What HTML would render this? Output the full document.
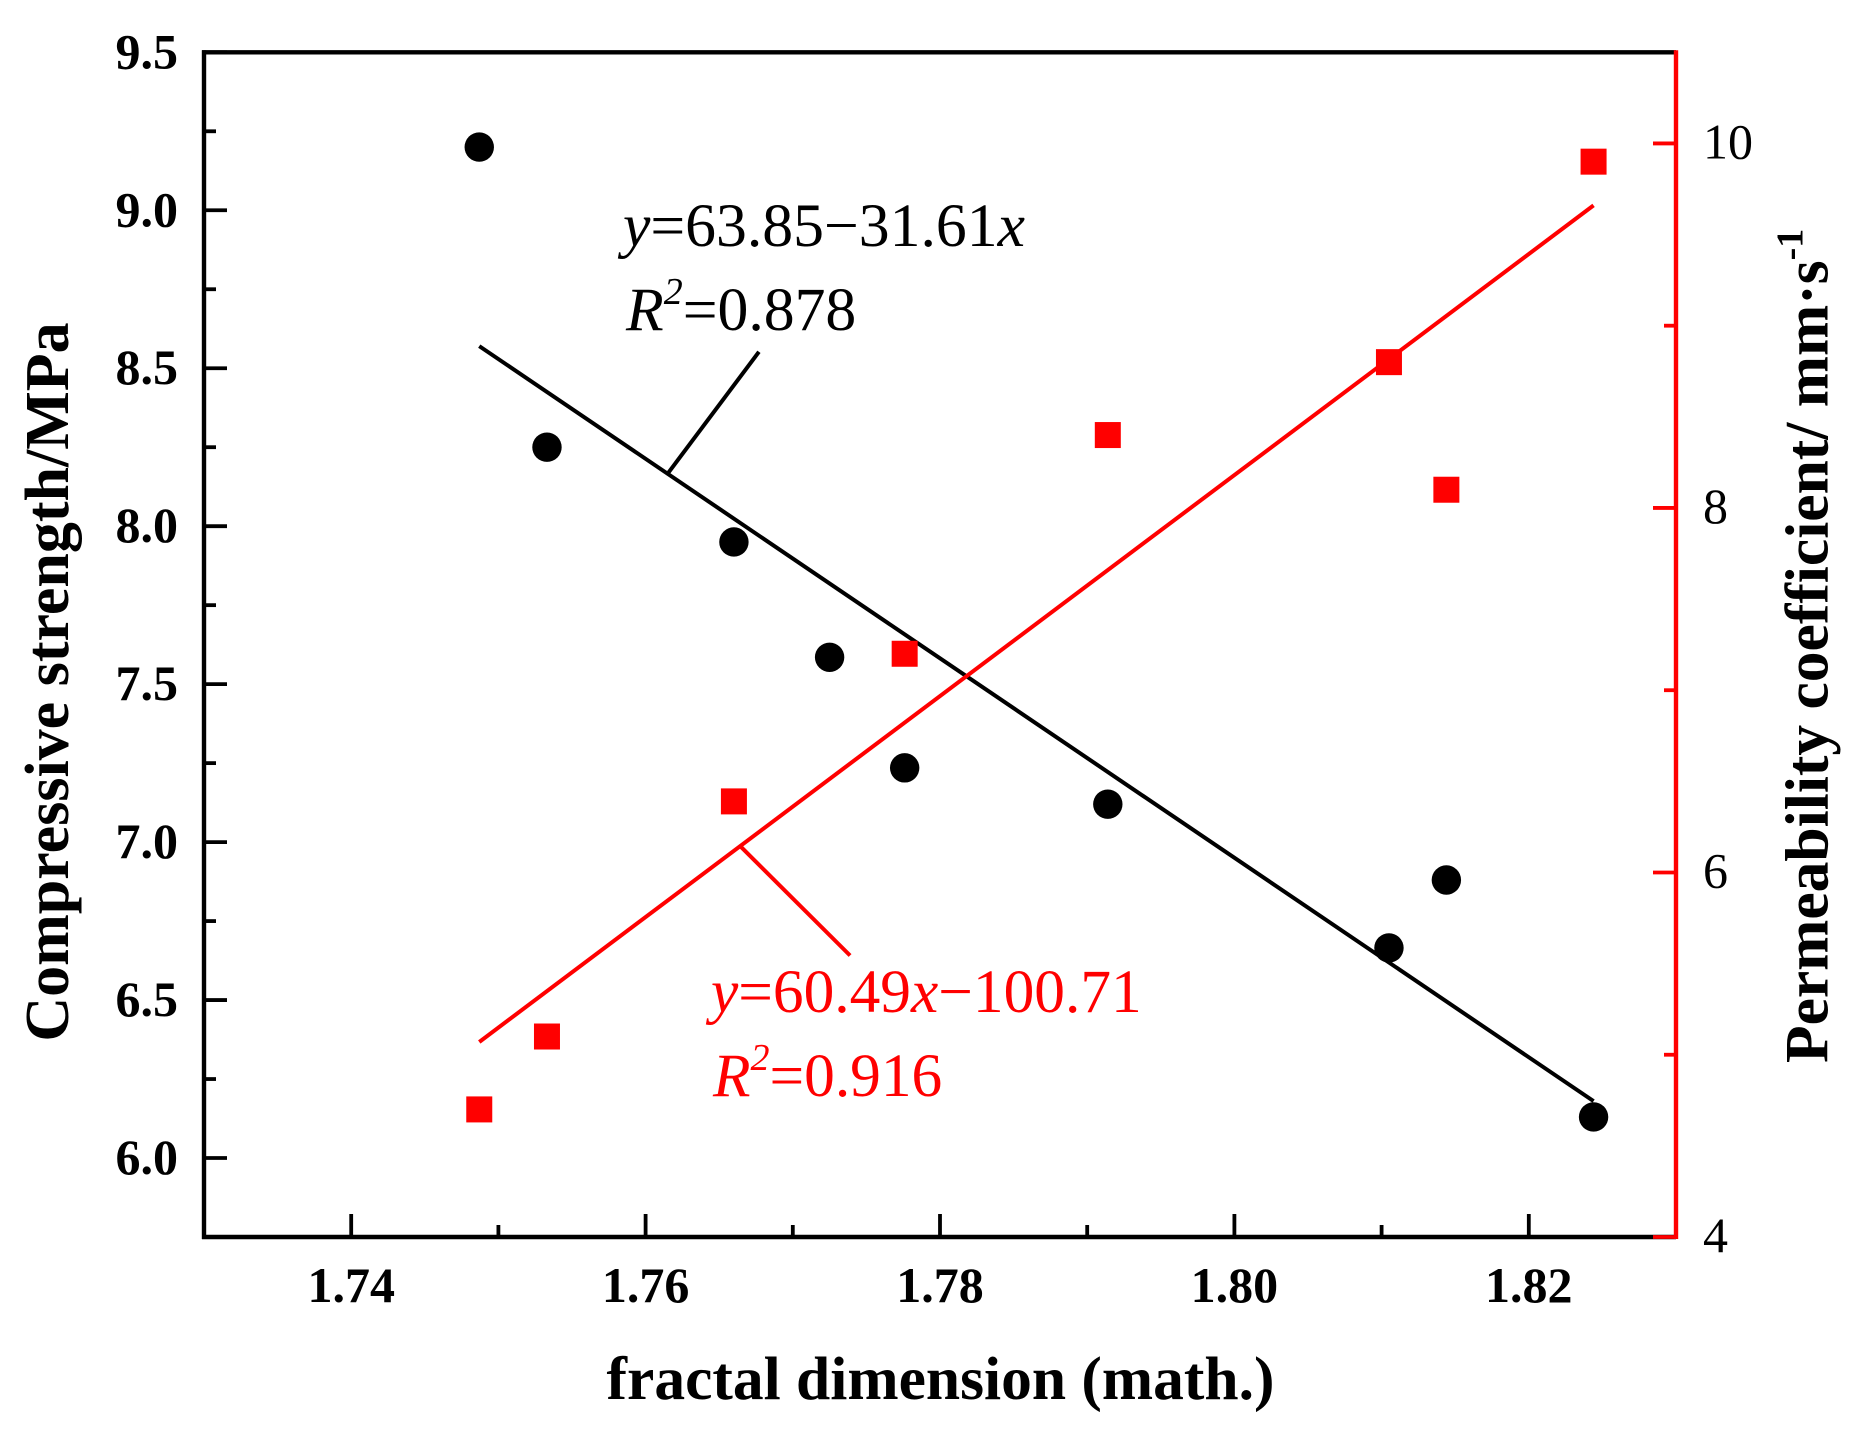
<!DOCTYPE html>
<html lang="en">
<head>
<meta charset="utf-8">
<title>Compressive strength and permeability coefficient vs fractal dimension</title>
<style>
  html, body { margin: 0; padding: 0; background: #fff; }
  svg { display: block; font-family: "Liberation Serif", serif; }
</style>
</head>
<body>
<svg id="chart" xmlns="http://www.w3.org/2000/svg" width="1862" height="1433" viewBox="0 0 1862 1433">
  <rect x="0" y="0" width="1862" height="1433" fill="#fff"/>
  <g id="ticks"></g>
  <g id="frame"></g>
  <g id="fits"></g>
  <g id="marks"></g>
  <g id="labels" font-size="50" fill="#000"></g>

  <text x="940.5" y="1399" text-anchor="middle" font-size="61.5" font-weight="bold" fill="#000">fractal dimension (math.)</text>
  <text transform="translate(68 682) rotate(-90)" text-anchor="middle" font-size="62" font-weight="bold" fill="#000">Compressive strength/MPa</text>
  <text transform="translate(1827.5 1063) rotate(-90)" font-size="61.5" font-weight="bold" fill="#000">Permeability coefficient/ mm·s<tspan font-size="38" dy="-25">-1</tspan></text>

  <g font-size="61.7" fill="#000">
    <text x="623" y="246"><tspan font-style="italic">y</tspan>=63.85−31.61<tspan font-style="italic">x</tspan></text>
    <text x="626" y="330"><tspan font-style="italic">R</tspan><tspan font-style="italic" font-size="38" dy="-26">2</tspan><tspan dy="26">=0.878</tspan></text>
  </g>
  <g font-size="61.4" fill="#f00">
    <text x="711" y="1012"><tspan font-style="italic">y</tspan>=60.49<tspan font-style="italic">x</tspan>−100.71</text>
    <text x="713" y="1096"><tspan font-style="italic">R</tspan><tspan font-style="italic" font-size="38" dy="-26">2</tspan><tspan dy="26">=0.916</tspan></text>
  </g>
</svg>
<script>
// Data
const strengthX = [1.7487, 1.7533, 1.7660, 1.7725, 1.7776, 1.7914, 1.8105, 1.8144, 1.8244];
const strengthY = [9.20, 8.25, 7.95, 7.585, 7.235, 7.12, 6.665, 6.88, 6.13];
const permeabilityX = [1.7487, 1.7533, 1.7660, 1.7776, 1.7914, 1.8105, 1.8144, 1.8244];
const permeabilityY = [4.70, 5.10, 6.39, 7.20, 8.40, 8.80, 8.10, 9.90];
const strengthFitX = [1.7487, 1.8244];
const strengthFitY = [8.57, 6.18];
const permeabilityFitX = [1.7487, 1.8244];
const permeabilityFitY = [5.07, 9.66];
const strengthLeaderX = [1.76156, 1.7677];
const strengthLeaderY = [8.170, 8.552];
const permeabilityLeaderX = [1.76639, 1.77389];
const permeabilityLeaderY = [6.1475, 5.5445];
const xMajorTicks = [1.74, 1.76, 1.78, 1.80, 1.82];
const xMinorTicks = [1.75, 1.77, 1.79, 1.81];
const xTickLabels = ['1.74', '1.76', '1.78', '1.80', '1.82'];
const leftMajorTicks = [9.5, 9.0, 8.5, 8.0, 7.5, 7.0, 6.5, 6.0];
const leftMinorTicks = [9.25, 8.75, 8.25, 7.75, 7.25, 6.75, 6.25];
const leftTickLabels = ['9.5', '9.0', '8.5', '8.0', '7.5', '7.0', '6.5', '6.0'];
const rightMajorTicks = [10, 8, 6, 4];
const rightMinorTicks = [9, 7, 5];
const rightTickLabels = ['10', '8', '6', '4'];
const xDomain = [1.73, 1.83];
const leftDomain = [5.75, 9.5];
const rightDomain = [4, 10.5];

// Layout
const plotLeft = 204, plotRight = 1676, plotTop = 52.3, plotBottom = 1237;
const sx = v => plotLeft + (v - xDomain[0]) / (xDomain[1] - xDomain[0]) * (plotRight - plotLeft);
const syL = v => plotBottom - (v - leftDomain[0]) / (leftDomain[1] - leftDomain[0]) * (plotBottom - plotTop);
const syR = v => plotBottom - (v - rightDomain[0]) / (rightDomain[1] - rightDomain[0]) * (plotBottom - plotTop);

const NS = 'http://www.w3.org/2000/svg';
const BLACK = '#000', RED = '#f00';
function make(tag, parent, attrs) {
  const el = document.createElementNS(NS, tag);
  for (const k in attrs) el.setAttribute(k, attrs[k]);
  parent.appendChild(el);
  return el;
}
const gTicks = document.getElementById('ticks');
const gFrame = document.getElementById('frame');
const gFits = document.getElementById('fits');
const gMarks = document.getElementById('marks');
const gLabels = document.getElementById('labels');

function line(parent, x1, y1, x2, y2, color, w) {
  return make('line', parent, { x1: x1, y1: y1, x2: x2, y2: y2, stroke: color, 'stroke-width': w });
}

// Ticks
xMajorTicks.forEach(v => {
  const el = line(gTicks, sx(v), plotBottom, sx(v), plotBottom - 23, BLACK, 3.8);
  
  
});
xMinorTicks.forEach(v => {
  const el = line(gTicks, sx(v), plotBottom, sx(v), plotBottom - 12, BLACK, 3.8);
  
  
});
leftMajorTicks.forEach(v => {
  const el = line(gTicks, plotLeft, syL(v), plotLeft + 23, syL(v), BLACK, 3.8);
  
  
});
leftMinorTicks.forEach(v => {
  const el = line(gTicks, plotLeft, syL(v), plotLeft + 12, syL(v), BLACK, 3.8);
  
  
});

// Frame
const bottomAxis = line(gFrame, plotLeft - 2, plotBottom, plotRight, plotBottom, BLACK, 4.4);


const topAxis = line(gFrame, plotLeft - 2, plotTop, plotRight, plotTop, BLACK, 4.4);


const leftAxis = line(gFrame, plotLeft, plotTop - 2, plotLeft, plotBottom + 2, BLACK, 4.4);


rightMajorTicks.forEach(v => {
  const el = line(gFrame, plotRight, syR(v), plotRight - 23, syR(v), RED, 3.8);
  
  
});
rightMinorTicks.forEach(v => {
  const el = line(gFrame, plotRight, syR(v), plotRight - 12, syR(v), RED, 3.8);
  
  
});
const rightAxis = line(gFrame, plotRight, plotTop - 2, plotRight, plotBottom + 2, RED, 4.4);



// Fit lines and leader lines
const strengthFit = line(gFits, sx(strengthFitX[0]), syL(strengthFitY[0]), sx(strengthFitX[1]), syL(strengthFitY[1]), BLACK, 4);


const permeabilityFit = line(gFits, sx(permeabilityFitX[0]), syR(permeabilityFitY[0]), sx(permeabilityFitX[1]), syR(permeabilityFitY[1]), RED, 4);


const strengthLeader = line(gFits, sx(strengthLeaderX[0]), syL(strengthLeaderY[0]), sx(strengthLeaderX[1]), syL(strengthLeaderY[1]), BLACK, 4);


const permeabilityLeader = line(gFits, sx(permeabilityLeaderX[0]), syR(permeabilityLeaderY[0]), sx(permeabilityLeaderX[1]), syR(permeabilityLeaderY[1]), RED, 4);



// Points
strengthX.forEach((v, i) => {
  const c = make('circle', gMarks, { cx: sx(v), cy: syL(strengthY[i]), r: 14.7, fill: BLACK });
  
  
});
const squareSize = 26;
permeabilityX.forEach((v, i) => {
  const r = make('rect', gMarks, { x: sx(v) - squareSize / 2, y: syR(permeabilityY[i]) - squareSize / 2, width: squareSize, height: squareSize, fill: RED });
  
  
});

// Tick labels
function label(x, y, str, anchor, weight) {
  const t = make('text', gLabels, { x: x, y: y, 'text-anchor': anchor, 'font-weight': weight });
  t.textContent = str;
  return t;
}
xMajorTicks.forEach((v, i) => {
  const t = label(sx(v), 1302, xTickLabels[i], 'middle', 'bold');
  
  
});
leftMajorTicks.forEach((v, i) => {
  const t = label(178, syL(v) + 16, leftTickLabels[i], 'end', 'bold');
  
  
});
rightMajorTicks.forEach((v, i) => {
  const t = label(1703, syR(v) + 15, rightTickLabels[i], 'start', 'normal');
  
  
});
</script>
</body>
</html>
